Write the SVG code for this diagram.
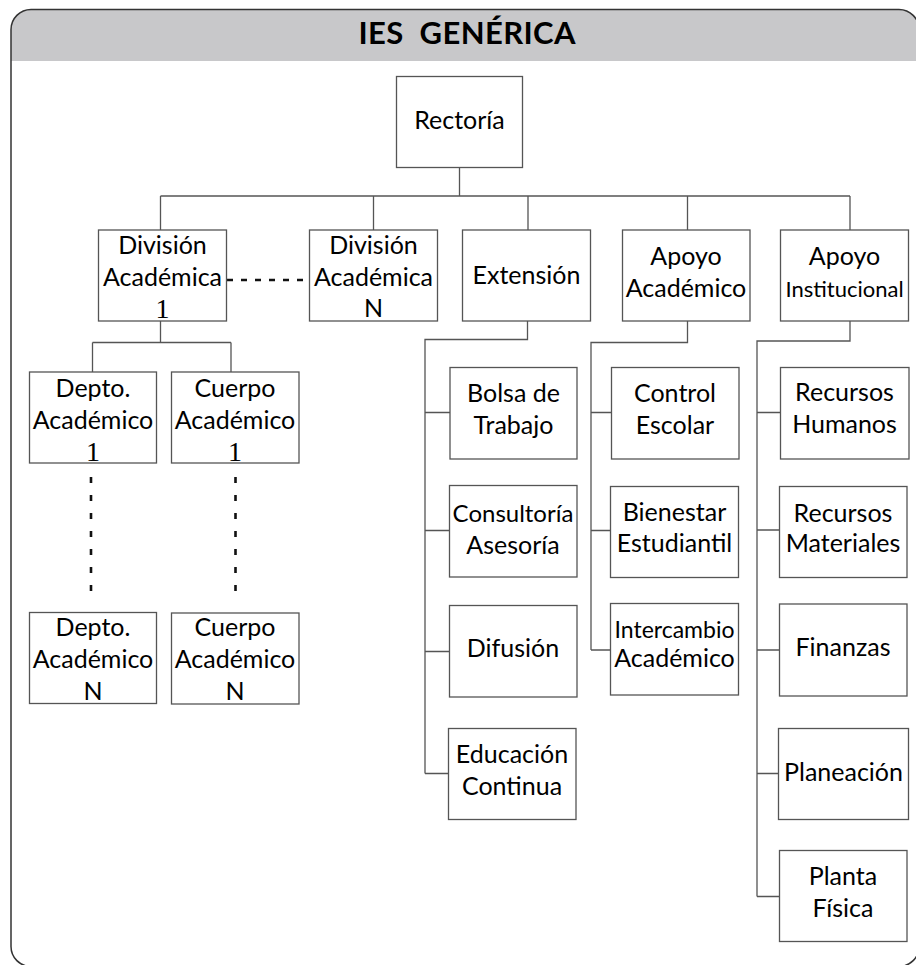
<svg xmlns="http://www.w3.org/2000/svg" width="916" height="965" viewBox="0 0 916 965">
<style>
.box{fill:#fff;stroke:#555;stroke-width:1.3}
.t{font-family:Lato,"Liberation Sans",sans-serif;font-size:25px;fill:#000;text-anchor:middle}
.n{font-family:"Liberation Serif",serif;font-size:28px;fill:#000;text-anchor:middle}
.ln{fill:none;stroke:#555;stroke-width:1.3}
.dash{fill:none;stroke:#111;stroke-width:2.6}
</style>
<g id="frame">
<path d="M11,61 V29.5 A20,20 0 0 1 31,9.5 H899 A20,20 0 0 1 919,29.5 V61 Z" fill="#c8c8ca"/>
<rect x="11" y="9.5" width="908" height="957" rx="20" ry="20" fill="none" stroke="#333" stroke-width="1.5"/>
<text x="467" y="44" font-family="Lato,'Liberation Sans',sans-serif" font-weight="bold" font-size="31" fill="#000" text-anchor="middle" textLength="217" lengthAdjust="spacing" xml:space="preserve">IES  GENÉRICA</text>
</g>
<g id="connectors">
<path class="ln" d="M459.5,167.5 V196 M160.5,196 H850 M160.5,196 V230 M373.5,196 V230 M528,196 V230 M687.5,196 V230 M850,196 V230"/>
<path class="dash" d="M227,280 H309" stroke-dasharray="6 8"/>
<path class="ln" d="M160.5,321 V342.5 M92.5,342.5 H231 M92.5,342.5 V372 M231,342.5 V372"/>
<path class="dash" d="M91,477 V593 M235.5,477 V593" stroke-width="3" stroke-dasharray="6 12"/>
<path class="ln" d="M527.5,321 V339.5 H425 V773.5 M425,412.5 H450 M425,530.5 H449.5 M425,651.5 H449.5 M425,773.5 H448.5"/>
<path class="ln" d="M687.5,321 V342.5 H591 V650 M591,412.5 H611.5 M591,530.5 H610.5 M591,650 H610.5"/>
<path class="ln" d="M850,321 V341 H757 V896.5 M757,412.5 H780.5 M757,530 H779.5 M757,650 H779.5 M757,773.5 H778.5 M757,896.5 H779.5"/>
</g>
<g id="rectoria"><rect class="box" x="396.5" y="76.5" width="126" height="91"/><text class="t" x="459.5" y="129">Rectoría</text></g>
<g id="div1"><rect class="box" x="98.5" y="230" width="128" height="91"/><text class="t" x="162.5" y="253.5">División</text><text class="t" x="162.5" y="286">Académica</text><text class="n" x="162.5" y="317.5">1</text></g>
<g id="divN"><rect class="box" x="309.5" y="230" width="128" height="91"/><text class="t" x="373.5" y="253.5">División</text><text class="t" x="373.5" y="286">Académica</text><text class="t" x="373.5" y="317">N</text></g>
<g id="extension"><rect class="box" x="462.5" y="230" width="128" height="91"/><text class="t" x="526.5" y="284">Extensión</text></g>
<g id="apoyoAcad"><rect class="box" x="622.5" y="230" width="127.5" height="91"/><text class="t" x="686" y="265">Apoyo</text><text class="t" x="686" y="297">Académico</text></g>
<g id="apoyoInst"><rect class="box" x="780.5" y="230" width="128" height="91"/><text class="t" x="844.5" y="265">Apoyo</text><text class="t" x="844.5" y="297" style="font-size:22px">Institucional</text></g>
<g id="depto1"><rect class="box" x="29.5" y="372" width="127" height="91"/><text class="t" x="93" y="397">Depto.</text><text class="t" x="93" y="429">Académico</text><text class="n" x="93" y="461">1</text></g>
<g id="cuerpo1"><rect class="box" x="171.5" y="372" width="127.5" height="91"/><text class="t" x="235" y="397">Cuerpo</text><text class="t" x="235" y="429">Académico</text><text class="n" x="235" y="461">1</text></g>
<g id="deptoN"><rect class="box" x="29.5" y="612.5" width="127" height="91"/><text class="t" x="93" y="636">Depto.</text><text class="t" x="93" y="668">Académico</text><text class="t" x="93" y="700">N</text></g>
<g id="cuerpoN"><rect class="box" x="171.5" y="613" width="127.5" height="91"/><text class="t" x="235" y="636">Cuerpo</text><text class="t" x="235" y="668">Académico</text><text class="t" x="235" y="700">N</text></g>
<g id="bolsa"><rect class="box" x="450" y="367.5" width="127" height="91.5"/><text class="t" x="513.5" y="402">Bolsa de</text><text class="t" x="513.5" y="434">Trabajo</text></g>
<g id="consultoria"><rect class="box" x="449.5" y="485.5" width="127.5" height="91.5"/><text class="t" x="513" y="522" style="font-size:24px">Consultoría</text><text class="t" x="513" y="554">Asesoría</text></g>
<g id="difusion"><rect class="box" x="449.5" y="605.5" width="127.5" height="91.5"/><text class="t" x="513" y="657">Difusión</text></g>
<g id="educacion"><rect class="box" x="448.5" y="728.5" width="127.5" height="91"/><text class="t" x="512" y="763">Educación</text><text class="t" x="512" y="795">Continua</text></g>
<g id="control"><rect class="box" x="611.5" y="367.5" width="127.5" height="91.5"/><text class="t" x="675" y="402">Control</text><text class="t" x="675" y="434">Escolar</text></g>
<g id="bienestar"><rect class="box" x="610.5" y="486.5" width="128" height="91"/><text class="t" x="674.5" y="521">Bienestar</text><text class="t" x="674.5" y="552">Estudiantil</text></g>
<g id="intercambio"><rect class="box" x="610.5" y="603.5" width="128" height="91.5"/><text class="t" x="674.5" y="638" style="font-size:23px">Intercambio</text><text class="t" x="674.5" y="667">Académico</text></g>
<g id="recHumanos"><rect class="box" x="780.5" y="367.5" width="128.5" height="91.5"/><text class="t" x="844.5" y="401">Recursos</text><text class="t" x="844.5" y="433">Humanos</text></g>
<g id="recMateriales"><rect class="box" x="779.5" y="486.5" width="127.5" height="91"/><text class="t" x="843" y="522">Recursos</text><text class="t" x="843" y="552">Materiales</text></g>
<g id="finanzas"><rect class="box" x="779.5" y="604" width="127.5" height="92"/><text class="t" x="843" y="656">Finanzas</text></g>
<g id="planeacion"><rect class="box" x="778.5" y="728.5" width="130" height="91"/><text class="t" x="843.5" y="781">Planeación</text></g>
<g id="planta"><rect class="box" x="779.5" y="850.5" width="127.5" height="91"/><text class="t" x="843" y="885">Planta</text><text class="t" x="843" y="917">Física</text></g>
</svg>
